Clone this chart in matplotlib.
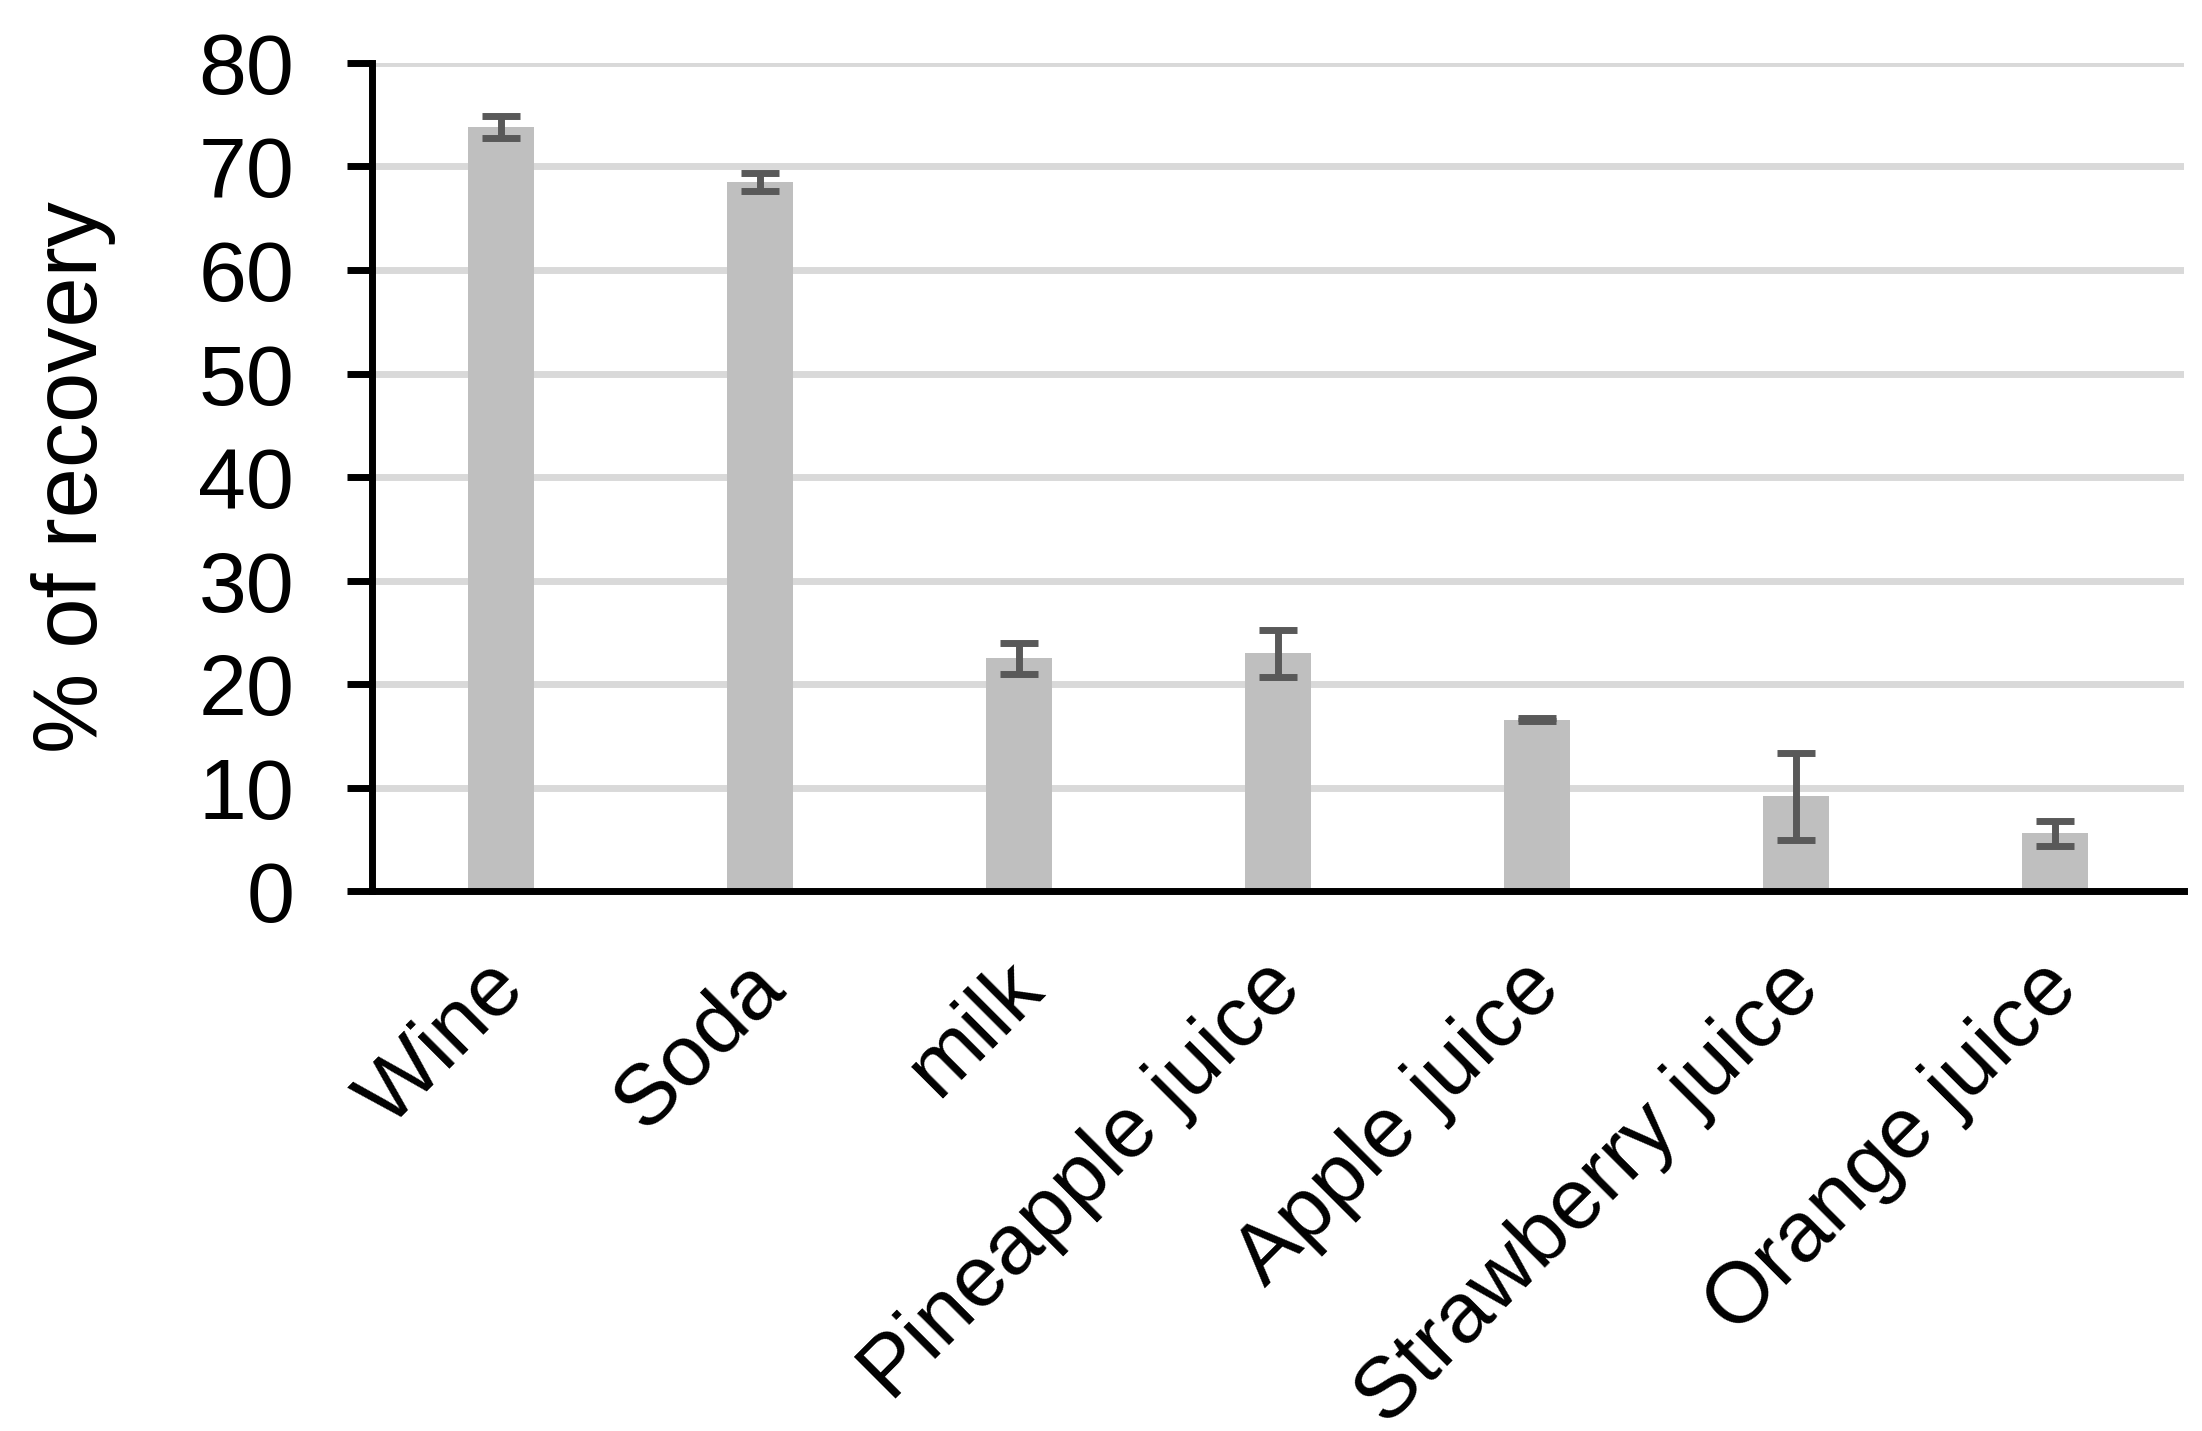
import matplotlib
matplotlib.use("Agg")
import matplotlib.pyplot as plt
import matplotlib.transforms as mtransforms
import numpy as np

categories = ["Wine", "Soda", "milk", "Pineapple juice", "Apple juice",
              "Strawberry juice", "Orange juice"]
recovery = [73.8, 68.5, 22.5, 23.0, 16.6, 9.2, 5.6]
errors = [1.1, 0.85, 1.5, 2.25, 0.1, 4.2, 1.25]
yticks = [0, 10, 20, 30, 40, 50, 60, 70, 80]

plt.rcParams['font.family'] = ['Liberation Sans', 'DejaVu Sans']

fig = plt.figure(figsize=(22.02, 14.31), dpi=100)
ax = fig.add_axes([0.16894, 0.37701, 0.82289, 0.57917])

x = np.arange(len(categories))
ax.bar(x, recovery, width=0.255, color="#bfbfbf", zorder=2)
ax.errorbar(x, recovery, yerr=errors, fmt="none", ecolor="#595959",
            elinewidth=5, capsize=14, capthick=5, zorder=3)

ax.set_xlim(-0.5, len(categories) - 0.5)
ax.set_ylim(0, 80)
ax.set_yticks(yticks)
ax.set_yticklabels([str(v) for v in yticks])
ax.set_xticks(x)
ax.set_xticklabels(categories, rotation=45, ha="right", va="center",
                   rotation_mode="anchor")

ax.set_axisbelow(True)
ax.yaxis.grid(True, color="#d9d9d9", linewidth=5)
ax.xaxis.grid(False)

for s in ["top", "right"]:
    ax.spines[s].set_visible(False)
for s in ["left", "bottom"]:
    ax.spines[s].set_linewidth(5)
    ax.spines[s].set_color("black")

ax.tick_params(axis="y", length=18, width=5, pad=38, labelsize=62,
               direction="out", color="black")
ax.tick_params(axis="x", length=0, pad=60, labelsize=62)

shift = mtransforms.ScaledTranslation(0.11, 0.0, fig.dpi_scale_trans)
for lab in ax.get_xticklabels():
    lab.set_transform(lab.get_transform() + shift)

ax.set_ylabel("% of recovery", fontsize=65)
ax.yaxis.set_label_coords(-0.1413, 0.5)

fig.savefig("out.png", dpi=100, facecolor="white")
